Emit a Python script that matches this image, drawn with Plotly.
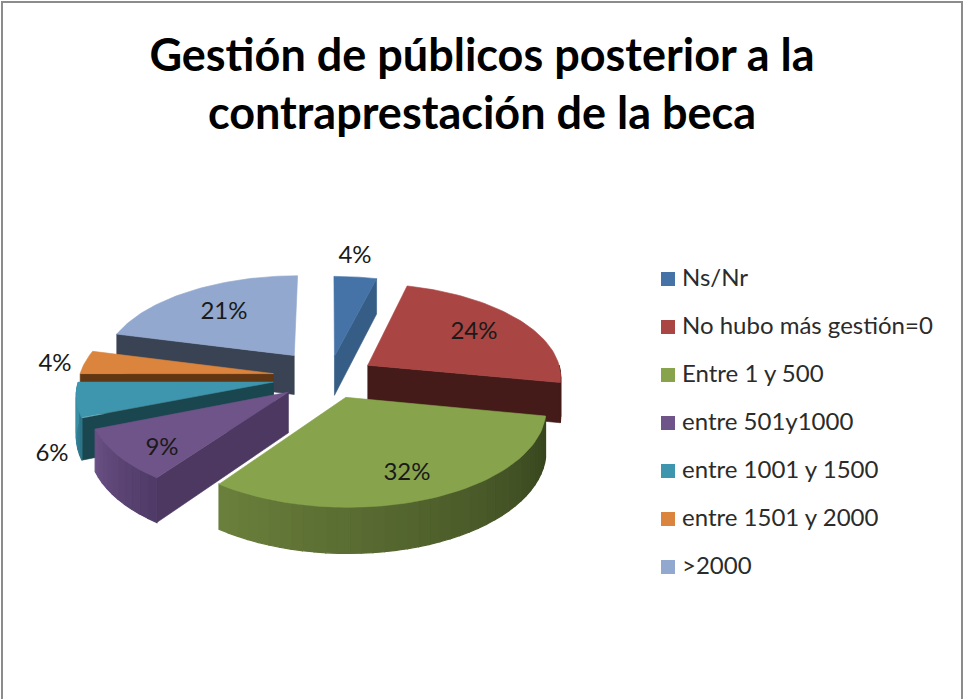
import numpy as np
import plotly.graph_objects as go

TITLE = "Gestión de públicos posterior a la<br>contraprestación de la beca"
CATEGORIES = ["Ns/Nr", "No hubo más gestión=0", "Entre 1 y 500", "entre 501y1000",
              "entre 1001 y 1500", "entre 1501 y 2000", ">2000"]
VALUES = [4, 24, 32, 9, 6, 4, 21]

TOP_COLORS = ["#4573A7", "#A94543", "#87A44C", "#6F5489", "#3E96AE", "#DB843D", "#92A8CE"]
SIDE_COLORS = ["#355D85", "#451B19", "#3F4F22", "#4C3860", "#1A4650", "#613613", "#3A4354"]
RIM_LEFT = ["#355D85", "#451B19", "#6B803C", "#6A5085", "#3B93A8", "#613613", "#3A4354"]
RIM_RIGHT = ["#355D85", "#451B19", "#36431D", "#4F3A66", "#2C7285", "#613613", "#3A4354"]
# how far each slice is pulled out, as a share of the radius
PULL = [0.23, 0.24, 0.23, 0.26, 0.29, 0.29, 0.30]

# pie projection, in page pixels
CX, CY = 329, 377
RX, RY = 194, 93
PERSPECTIVE = 0.11
DEPTH = 40
LABEL_POS = [(355, 257), (474, 333), (407, 474), (162, 449), (52, 455), (55, 365), (224, 313)]
DRAW_ORDER = [0, 1, 6, 5, 4, 3, 2]


def project(u, v, drop=0.0):
    s = 1 / (1 + PERSPECTIVE * v)
    return CX + RX * u * s, CY - RY * v * s + drop * s


def hex_mix(c1, c2, t):
    a = [int(c1[i:i + 2], 16) for i in (1, 3, 5)]
    b = [int(c2[i:i + 2], 16) for i in (1, 3, 5)]
    return "rgb({},{},{})".format(*[round(p + (q - p) * t) for p, q in zip(a, b)])


def poly(fig, xs, ys, color, width=0.6):
    fig.add_trace(go.Scatter(
        x=xs, y=ys, mode="lines", fill="toself", fillcolor=color,
        line=dict(color=color, width=width), hoverinfo="skip", showlegend=False,
    ))


def add_radial_face(fig, off, theta, color):
    u0, v0 = off
    u1, v1 = u0 + np.sin(theta), v0 + np.cos(theta)
    pts = [project(u0, v0), project(u1, v1), project(u1, v1, DEPTH), project(u0, v0, DEPTH)]
    poly(fig, [p[0] for p in pts] + [pts[0][0]], [p[1] for p in pts] + [pts[0][1]], color)


def add_slice(fig, i, start, end):
    mid = (start + end) / 2
    off = (PULL[i] * np.sin(mid), PULL[i] * np.cos(mid))

    # flat faces that look towards the viewer
    if np.cos(start - np.pi / 2) < -1e-6:
        add_radial_face(fig, off, start, SIDE_COLORS[i])
    if np.cos(end + np.pi / 2) < -1e-6:
        add_radial_face(fig, off, end, SIDE_COLORS[i])

    # curved rim, front half only, cut in strips to shade it
    lo, hi = max(start, np.pi / 2), min(end, 1.5 * np.pi)
    if hi > lo:
        edges = np.linspace(lo, hi, max(2, int(np.degrees(hi - lo) / 3)) + 1)
        for a, b in zip(edges[:-1], edges[1:]):
            t = (hi - (a + b) / 2) / (hi - lo)
            color = hex_mix(RIM_LEFT[i], RIM_RIGHT[i], t)
            us = off[0] + np.sin([a, b]), off[1] + np.cos([a, b])
            top = [project(u, v) for u, v in zip(*us)]
            bot = [project(u, v, DEPTH) for u, v in zip(*us)]
            pts = top + bot[::-1] + top[:1]
            poly(fig, [p[0] for p in pts], [p[1] for p in pts], color, width=1.2)

    # top face
    th = np.linspace(start, end, 60)
    pts = [project(*off)] + [project(off[0] + np.sin(x), off[1] + np.cos(x)) for x in th] + [project(*off)]
    poly(fig, [p[0] for p in pts], [p[1] for p in pts], TOP_COLORS[i])


fig = go.Figure()

# page frame, no bottom edge
fig.add_trace(go.Scatter(x=[2, 2, 962, 962], y=[699, 2, 2, 699], mode="lines",
                         line=dict(color="#8C8C8C", width=2), hoverinfo="skip", showlegend=False))

cum = np.concatenate([[0], np.cumsum(VALUES)]) / sum(VALUES) * 2 * np.pi
for i in DRAW_ORDER:
    add_slice(fig, i, cum[i], cum[i + 1])

# percent labels
fig.add_trace(go.Scatter(
    x=[p[0] for p in LABEL_POS], y=[p[1] for p in LABEL_POS],
    text=[f"{v}%" for v in VALUES], mode="text",
    textfont=dict(family="Lato, sans-serif", size=24, color="#1A1A1A"),
    hoverinfo="skip", showlegend=False,
))

# legend, drawn by hand to keep the wide row spacing
legend_y = [279 + 48 * i for i in range(len(CATEGORIES))]
fig.add_trace(go.Scatter(
    x=[668] * len(CATEGORIES), y=legend_y, mode="markers",
    marker=dict(symbol="square", size=14, color=TOP_COLORS, line=dict(width=0)),
    hoverinfo="skip", showlegend=False,
))
fig.add_trace(go.Scatter(
    x=[682] * len(CATEGORIES), y=[y + 1 for y in legend_y], text=CATEGORIES, mode="text",
    textposition="middle right",
    textfont=dict(family="Lato, sans-serif", size=24, color="#2B2B2B"),
    hoverinfo="skip", showlegend=False,
))

fig.update_layout(
    title=dict(text=TITLE, x=0.5, xanchor="center", y=0.899, yanchor="top",
               font=dict(family="Lato, sans-serif", size=45, color="#000000", weight="bold")),
    width=964,
    height=699,
    margin=dict(t=0, l=0, r=0, b=0),
    paper_bgcolor="white",
    plot_bgcolor="white",
    xaxis=dict(range=[0, 964], visible=False, fixedrange=True),
    yaxis=dict(range=[699, 0], visible=False, fixedrange=True),
)

fig.write_html("out.html", config={"displayModeBar": False},
               post_script="document.body.style.margin='0';")
